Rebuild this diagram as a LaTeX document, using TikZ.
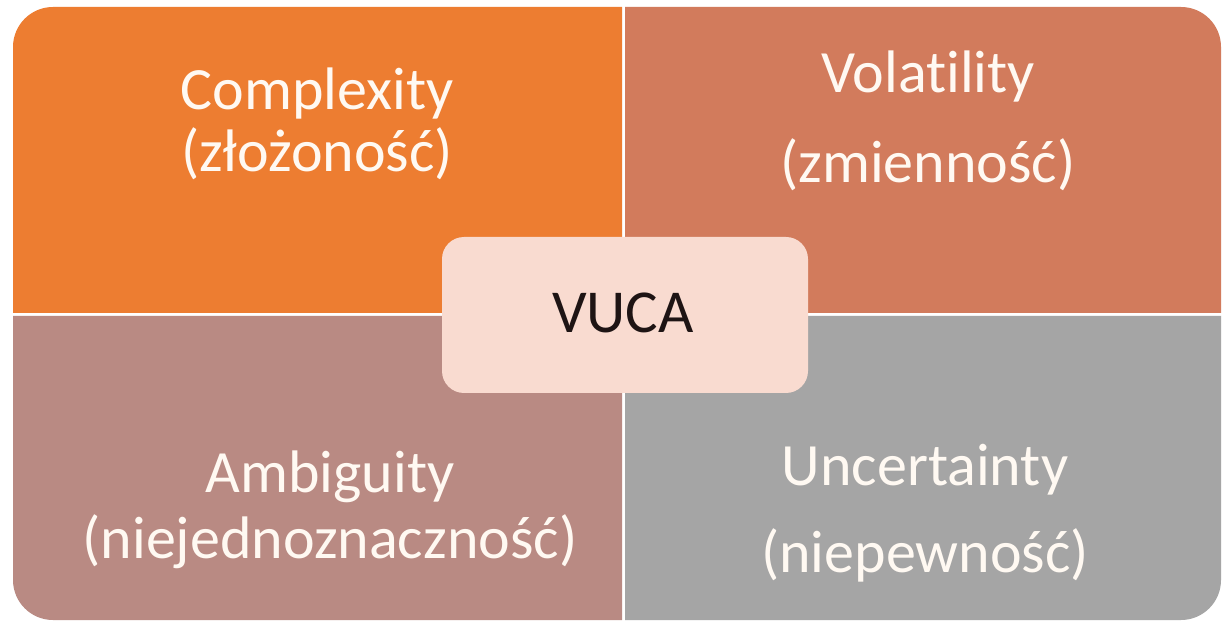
\documentclass[tikz,border=0pt]{standalone}
\usepackage{fontspec}
\setmainfont{Carlito}[RawFeature={-liga;-clig;-dlig}]
\definecolor{qorange}{HTML}{ED7D31}
\definecolor{qcoral}{HTML}{D27B5C}
\definecolor{qmauve}{HTML}{B98A83}
\definecolor{qgray}{HTML}{A5A5A5}
\definecolor{qcenter}{HTML}{F9DBD0}
\definecolor{qtext}{HTML}{FFF9F2}
\definecolor{qdark}{HTML}{1E1414}
\tikzset{
  qlabel/.style={anchor=base, inner sep=0pt, text=qtext, font=\fontsize{60}{60}\selectfont},
  centerbox/.style={fill=qcenter, rounded corners=22pt},
}
\begin{document}
\begin{tikzpicture}[x=1pt,y=1pt]
\fill[white] (0,0) rectangle (1224,622);
\useasboundingbox (0,0) rectangle (1224,622);
% quadrants
\fill[qorange] (13,309) -- (13,575) arc[start angle=180,end angle=90,radius=40] -- (622,615) -- (622,309) -- cycle;
\fill[qcoral] (625,309) -- (625,615) -- (1181,615) arc[start angle=90,end angle=0,radius=40] -- (1221,309) -- cycle;
\fill[qmauve] (13,306) -- (622,306) -- (622,2) -- (53,2) arc[start angle=270,end angle=180,radius=40] -- cycle;
\fill[qgray] (625,306) -- (1221,306) -- (1221,42) arc[start angle=0,end angle=-90,radius=40] -- (625,2) -- cycle;
% texts
\node[qlabel] (tl1) at (317,512) {Complexity};
\node[qlabel] (tl2) at (317,450) {(złożoność)};
\node[qlabel] (tr1) at (928,529) {Volatility};
\node[qlabel] (tr2) at (928,439) {(zmienność)};
\node[qlabel] (bl1) at (330,130) {Ambiguity};
\node[qlabel] (bl2) at (330,64) {(niejednoznaczność)};
\node[qlabel] (br1) at (925,137) {Uncertainty};
\node[qlabel] (br2) at (925,50) {(niepewność)};
% center
\fill[centerbox] (442,229) rectangle (808,385);
\node[anchor=base, inner sep=0pt, text=qdark, font=\fontsize{61}{61}\selectfont] (vuca) at (623,289) {VUCA};
\end{tikzpicture}
\end{document}
